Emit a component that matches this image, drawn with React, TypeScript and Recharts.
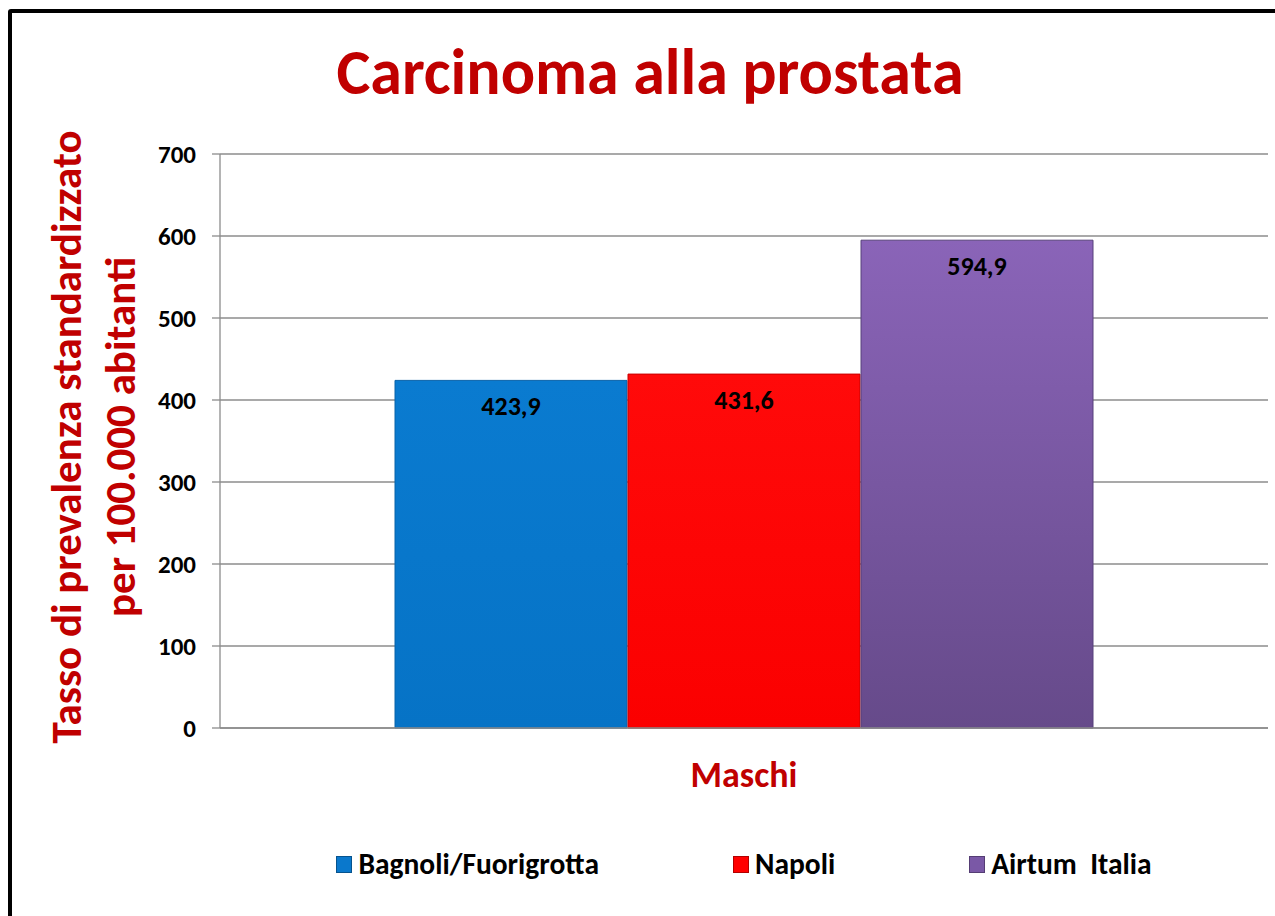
import { BarChart, Bar, XAxis, YAxis, CartesianGrid, Legend, LabelList } from "recharts";

const categories = ["Maschi"];
const bagnoli = [423.9];
const napoli = [431.6];
const airtum = [594.9];
const yTicks = [0, 100, 200, 300, 400, 500, 600, 700];

const seriesNames = ["Bagnoli/Fuorigrotta", "Napoli", "Airtum  Italia"];
const seriesColors = ["#0a78cc", "#ff0000", "#7a58a6"];

const data = categories.map((c, i) => ({
  name: c,
  bagnoli: bagnoli[i],
  napoli: napoli[i],
  airtum: airtum[i],
}));

const FONT = "Carlito, Lato, 'Liberation Sans', sans-serif";
const RED = "#c00000";

const fmt = (v: any) => String(v).replace(".", ",");

function YTitle(props: any) {
  const vb = props.viewBox || {};
  const cy = vb.y + vb.height / 2 - 4;
  return (
    <g fontFamily={FONT} fontWeight={700} fontSize={43} fill={RED}>
      <text x={66} y={cy} transform={`rotate(-90, 66, ${cy})`} textAnchor="middle" dominantBaseline="central">
        Tasso di prevalenza standardizzato
      </text>
      <text x={120} y={cy} transform={`rotate(-90, 120, ${cy})`} textAnchor="middle" dominantBaseline="central">
        per 100.000 abitanti
      </text>
    </g>
  );
}

function LegendContent() {
  return (
    <div style={{ display: "flex", justifyContent: "center", gap: 134, fontFamily: FONT, fontWeight: 700, fontSize: 29.5 }}>
      {seriesNames.map((name, i) => (
        <div key={name} style={{ display: "flex", alignItems: "center", gap: 6, whiteSpace: "pre" }}>
          <span
            style={{
              width: 16,
              height: 17,
              background: seriesColors[i],
              boxShadow: "inset 0 0 0 1px rgba(0,0,0,0.3)",
              display: "inline-block",
            }}
          />
          <span>{name}</span>
        </div>
      ))}
    </div>
  );
}

export default function App() {
  return (
    <div style={{ position: "fixed", left: 0, top: 0, width: 1275, height: 916, overflow: "hidden", background: "#fff" }}>
      <div style={{ position: "absolute", left: 8, top: 9, width: 1320, height: 1000, border: "4px solid #000", borderRadius: 3 }} />
      <div style={{ position: "absolute", left: 0, width: 1300, top: 35, textAlign: "center", fontFamily: FONT, fontWeight: 700, fontSize: 64, color: RED, lineHeight: "74px" }}>
        Carcinoma alla prostata
      </div>
      <div style={{ position: "absolute", left: 0, top: 0 }}>
        <BarChart width={1275} height={916} data={data} margin={{ top: 154, right: 7, left: 120, bottom: 30 }} barCategoryGap={175} barGap={1}>
          <defs>
            <linearGradient id="gBlue" x1="0" y1="0" x2="0" y2="1">
              <stop offset="0%" stopColor="#0a7bd0" />
              <stop offset="100%" stopColor="#0673c6" />
            </linearGradient>
            <linearGradient id="gRed" x1="0" y1="0" x2="0" y2="1">
              <stop offset="0%" stopColor="#ff0a0a" />
              <stop offset="100%" stopColor="#fb0000" />
            </linearGradient>
            <linearGradient id="gPurple" x1="0" y1="0" x2="0" y2="1">
              <stop offset="0%" stopColor="#8a64b8" />
              <stop offset="100%" stopColor="#664a8a" />
            </linearGradient>
          </defs>
          <CartesianGrid vertical={false} stroke="#8c8c8c" strokeWidth={1.3} />
          <XAxis
            dataKey="name"
            axisLine={{ stroke: "#8c8c8c", strokeWidth: 1.3 }}
            tickLine={false}
            height={118}
            tickMargin={27}
            tick={{ fill: RED, fontFamily: FONT, fontWeight: 700, fontSize: 36 }}
          />
          <YAxis
            domain={[0, 700]}
            ticks={yTicks}
            width={100}
            axisLine={{ stroke: "#8c8c8c", strokeWidth: 1.3 }}
            tickLine={{ stroke: "#8c8c8c", strokeWidth: 1.3 }}
            tickSize={8}
            tickMargin={16}
            tick={{ fill: "#000", fontFamily: FONT, fontWeight: 700, fontSize: 25 }}
            label={{ content: <YTitle /> }}
          />
          <Legend
            verticalAlign="bottom"
            height={40}
            wrapperStyle={{ left: 220, width: 1048 }}
            content={<LegendContent />}
          />
          <Bar dataKey="bagnoli" name={seriesNames[0]} fill="url(#gBlue)" stroke="#0862a8" strokeWidth={1} isAnimationActive={false}>
            <LabelList dataKey="bagnoli" position="insideTop" offset={16} formatter={fmt} fill="#000" fontFamily={FONT} fontWeight={700} fontSize={26} />
          </Bar>
          <Bar dataKey="napoli" name={seriesNames[1]} fill="url(#gRed)" stroke="#c80000" strokeWidth={1} isAnimationActive={false}>
            <LabelList dataKey="napoli" position="insideTop" offset={16} formatter={fmt} fill="#000" fontFamily={FONT} fontWeight={700} fontSize={26} />
          </Bar>
          <Bar dataKey="airtum" name={seriesNames[2]} fill="url(#gPurple)" stroke="#56407a" strokeWidth={1} isAnimationActive={false}>
            <LabelList dataKey="airtum" position="insideTop" offset={16} formatter={fmt} fill="#000" fontFamily={FONT} fontWeight={700} fontSize={26} />
          </Bar>
        </BarChart>
      </div>
    </div>
  );
}
